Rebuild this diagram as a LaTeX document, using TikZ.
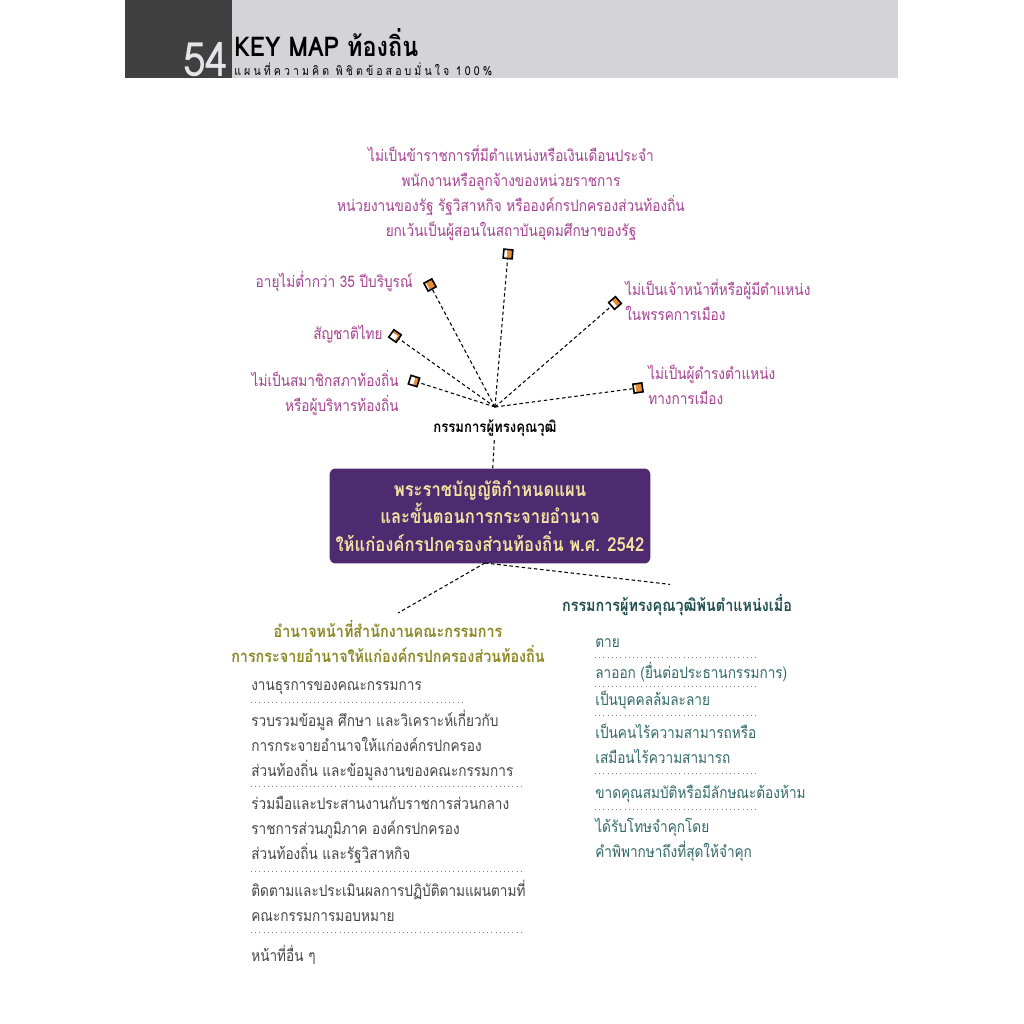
\documentclass[tikz,border=0pt]{standalone}
\usepackage{fontspec}
\setmainfont[Script=Thai,FakeStretch=0.86]{Loma}
\usetikzlibrary{positioning,calc}
\definecolor{kmdark}{RGB}{64,64,64}
\definecolor{kmlight}{RGB}{212,211,216}
\definecolor{kmpurple}{RGB}{78,42,112}
\definecolor{kmcream}{RGB}{242,228,160}
\definecolor{kmpink}{RGB}{165,65,145}
\definecolor{kmolive}{RGB}{140,135,35}
\definecolor{kmteal}{RGB}{30,78,80}
\definecolor{kmtealtext}{RGB}{50,105,105}
\definecolor{kmgray}{RGB}{70,70,70}
\definecolor{kmorange}{RGB}{230,140,50}
\tikzset{
  kmspoke/.style={font=\fontsize{9}{14.2}\selectfont, text=kmpink, inner sep=0pt},
  kmmark/.style={
    rectangle, draw=black, fill=kmorange, line width=0.9pt,
    minimum size=1.8mm, inner sep=0pt,
    path picture={\fill[white] (path picture bounding box.north west) rectangle ([xshift=-0.3mm]path picture bounding box.south);}
  },
  kmline/.style={dash pattern=on 2pt off 1.5pt, line width=0.6pt},
  kmrule/.style={dotted, line width=0.4pt, gray},
  kmhead/.style={font=\fontsize{9.5}{14.2}\selectfont\bfseries, align=center, inner sep=2pt},
  kmitem/.style={font=\fontsize{9}{14.2}\selectfont, align=left, anchor=west, inner sep=0pt},
  kmact/.style={
    rectangle, rounded corners=1.2mm, fill=kmpurple, text=kmcream,
    minimum width=6.34cm, minimum height=1.9cm, align=center,
    font=\fontsize{11}{15.5}\selectfont\bfseries
  }
}

\begin{document}
\begin{tikzpicture}[x=0.02cm,y=-0.02cm]
\useasboundingbox[fill=white] (0,0) rectangle (1024,1024);

% header band
\fill[kmdark] (125,0) rectangle (232,78);
\fill[kmlight] (232,0) rectangle (898,78);
\node[anchor=base east, inner sep=0pt, text=kmlight!60!white, font=\fontsize{27}{27}\selectfont] (pgno) at (229,77) {54};
\node[anchor=base west, inner sep=0pt, text depth=0pt, font=\fontsize{15.5}{15.5}\selectfont\bfseries] (maintitle) at (234,57) {KEY MAP ท้องถิ่น};
\node[anchor=base west, inner sep=0pt, text height=4pt, font=\fontsize{7}{7}\selectfont\addfontfeature{LetterSpace=25}] (subtitle) at (234,76) {แผนที่ความคิด พิชิตข้อสอบมั่นใจ 100\%};

% qualified members and their qualifications
\coordinate (hub) at (495,407);
\node[kmhead, font=\fontsize{8.7}{12}\selectfont\bfseries] (expert) at (495,428) {กรรมการผู้ทรงคุณวุฒิ};

\node[kmspoke, align=center] (q1) at (511,193) {ไม่เป็นข้าราชการที่มีตำแหน่งหรือเงินเดือนประจำ\\พนักงานหรือลูกจ้างของหน่วยราชการ\\หน่วยงานของรัฐ รัฐวิสาหกิจ หรือองค์กรปกครองส่วนท้องถิ่น\\ยกเว้นเป็นผู้สอนในสถาบันอุดมศึกษาของรัฐ};
\node[kmspoke, anchor=east] (q2) at (413,281) {อายุไม่ต่ำกว่า 35 ปีบริบูรณ์};
\node[kmspoke, anchor=east] (q3) at (383,334) {สัญชาติไทย};
\node[kmspoke, anchor=east, align=right] (q4) at (399,393) {ไม่เป็นสมาชิกสภาท้องถิ่น\\หรือผู้บริหารท้องถิ่น};
\node[kmspoke, anchor=west, align=left] (q5) at (625,300) {ไม่เป็นเจ้าหน้าที่หรือผู้มีตำแหน่ง\\ในพรรคการเมือง};
\node[kmspoke, anchor=west, align=left] (q6) at (648,385) {ไม่เป็นผู้ดำรงตำแหน่ง\\ทางการเมือง};

\node[kmmark, rotate=-5] (m1) at (508,254) {};
\node[kmmark, rotate=28] (m2) at (430,285) {};
\node[kmmark, rotate=-35] (m3) at (395,336) {};
\node[kmmark, rotate=-18] (m4) at (414,381) {};
\node[kmmark, rotate=41] (m5) at (615,303) {};
\node[kmmark, rotate=8] (m6) at (638,388) {};
\foreach \m in {m1,m2,m3,m4,m5,m6}
  \draw[kmline] (hub) -- (\m);

% the act
\node[kmact] (act) at (490,516) {พระราชบัญญัติกำหนดแผน\\และขั้นตอนการกระจายอำนาจ\\ให้แก่องค์กรปกครองส่วนท้องถิ่น พ.ศ. 2542};
\draw[kmline] (expert) -- (act);
\coordinate (actfoot) at (485,563);

% office duties
\node[kmhead, text=kmolive] (duty) at (388,641) {อำนาจหน้าที่สำนักงานคณะกรรมการ\\การกระจายอำนาจให้แก่องค์กรปกครองส่วนท้องถิ่น};
\draw[kmline] (actfoot) -- ($(duty.north)+(10,-3)$);
\node[kmitem, text=kmgray] (d1) at (251,688) {งานธุรการของคณะกรรมการ};
\node[kmitem, text=kmgray] (d2) at (251,745) {รวบรวมข้อมูล ศึกษา และวิเคราะห์เกี่ยวกับ\\การกระจายอำนาจให้แก่องค์กรปกครอง\\ส่วนท้องถิ่น และข้อมูลงานของคณะกรรมการ};
\node[kmitem, text=kmgray] (d3) at (251,830) {ร่วมมือและประสานงานกับราชการส่วนกลาง\\ราชการส่วนภูมิภาค องค์กรปกครอง\\ส่วนท้องถิ่น และรัฐวิสาหกิจ};
\node[kmitem, text=kmgray] (d4) at (251,901) {ติดตามและประเมินผลการปฏิบัติตามแผนตามที่\\คณะกรรมการมอบหมาย};
\node[kmitem, text=kmgray] (d5) at (251,955) {หน้าที่อื่น ๆ};
\draw[kmrule] (251,702) -- (462,702);
\draw[kmrule] (251,786) -- (522,786);
\draw[kmrule] (251,871) -- (522,871);
\draw[kmrule] (251,932) -- (522,932);

% leaving office
\node[kmhead, text=kmteal] (leave) at (677,605) {กรรมการผู้ทรงคุณวุฒิพ้นตำแหน่งเมื่อ};
\draw[kmline] (actfoot) -- ($(leave.north)+(-7,-6)$);
\node[kmitem, text=kmtealtext] (l1) at (595,643) {ตาย};
\node[kmitem, text=kmtealtext] (l2) at (595,672) {ลาออก (ยื่นต่อประธานกรรมการ)};
\node[kmitem, text=kmtealtext] (l3) at (595,700) {เป็นบุคคลล้มละลาย};
\node[kmitem, text=kmtealtext] (l4) at (595,744) {เป็นคนไร้ความสามารถหรือ\\เสมือนไร้ความสามารถ};
\node[kmitem, text=kmtealtext] (l5) at (595,794) {ขาดคุณสมบัติหรือมีลักษณะต้องห้าม};
\node[kmitem, text=kmtealtext] (l6) at (595,840) {ได้รับโทษจำคุกโดย\\คำพิพากษาถึงที่สุดให้จำคุก};
\foreach \y in {657,686,715,773,809}
  \draw[kmrule] (595,\y) -- (758,\y);
\end{tikzpicture}
\end{document}
